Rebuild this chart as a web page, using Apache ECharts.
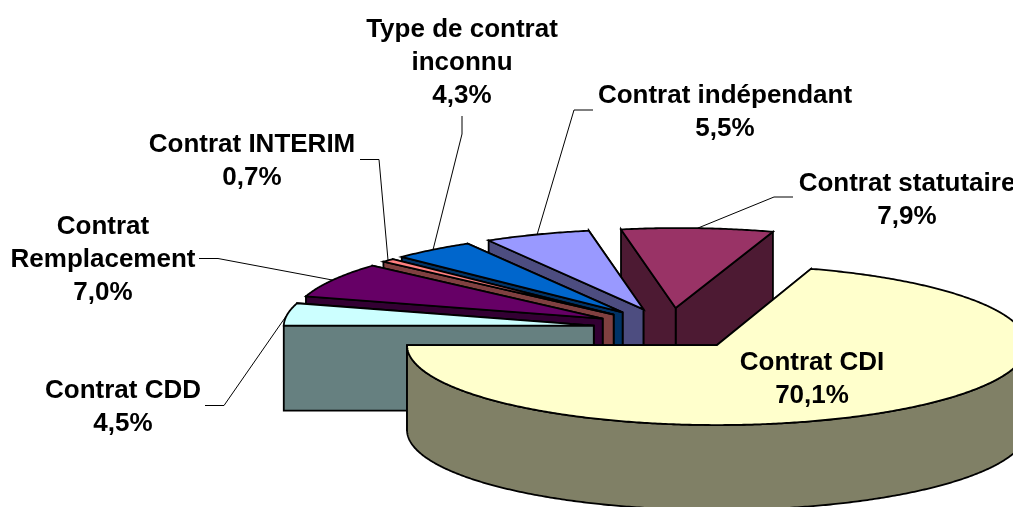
<!DOCTYPE html>
<html>
<head>
<meta charset="utf-8">
<style>html,body{margin:0;padding:0;background:#fff;overflow:hidden}#chart{width:1013px;height:507px}</style>
<script src="https://cdn.jsdelivr.net/npm/echarts@6/dist/echarts.min.js"></script>
</head>
<body>
<div id="chart"></div>
<script>
// Data
var categories = ['Contrat CDI', 'Contrat CDD', 'Contrat\nRemplacement', 'Contrat INTERIM', 'Type de contrat\ninconnu', 'Contrat indépendant', 'Contrat statutaire'];
var values = [70.1, 4.5, 7.0, 0.7, 4.3, 5.5, 7.9];

// Styles
var topColors = ['#FFFFCC', '#CCFFFF', '#660066', '#FF8080', '#0066CC', '#9999FF', '#993366'];
var sideColors = ['#808066', '#668080', '#330033', '#804040', '#003366', '#4D4D80', '#4D1A33'];

// Layout of the projected pie
var pie = { cx: 671, cy: 328.5, rx: 310, ry: 80, explodeX: 78, explodeY: 20.5, depth: 85, startAngle: 17.64, rearSkew: 3.5 };
var labelCentres = [[812, 379.5], [123, 407.5], [103, 260], [252, 161.5], [462, 63], [725, 112.5], [907, 200]];
var leaderElbows = [null, [[205, 405.5], [224, 405.5]], [[199, 258.5], [218, 258.5]], [[360, 159.5], [379, 159.5]], [[462, 116], [462, 134]], [[593, 110], [574, 110]], [[793, 197], [774, 197]]];

var total = values.reduce(function (a, b) { return a + b; }, 0);
var slices = [];
(function () {
  var a = pie.startAngle;
  values.forEach(function (v) {
    var sweep = v / total * 360;
    slices.push({ from: a, to: a + sweep, mid: a + sweep / 2 });
    a += sweep;
  });
})();

function rad(d) { return d * Math.PI / 180; }
function apexOf(s) {
  return [pie.cx + Math.sin(rad(s.mid)) * pie.explodeX, pie.cy - Math.cos(rad(s.mid)) * pie.explodeY];
}
function rimPoint(apex, deg) {
  // slices drawn at the rear of the pie lean slightly towards the viewer's right (perspective)
  var skew = deg > 270 ? Math.cos(rad(deg)) * pie.rearSkew : 0;
  return [apex[0] + Math.sin(rad(deg)) * pie.rx + skew, apex[1] - Math.cos(rad(deg)) * pie.ry];
}
function down(p) { return [p[0], p[1] + pie.depth]; }
function arc(apex, from, to) {
  var pts = [], n = Math.max(2, Math.ceil((to - from) * 2));
  for (var i = 0; i <= n; i++) pts.push(rimPoint(apex, from + (to - from) * i / n));
  return pts;
}
function poly(points, fill) {
  return { type: 'polygon', shape: { points: points }, style: { fill: fill, stroke: '#000', lineWidth: 1.8, lineJoin: 'miter' } };
}

function renderSlice(params, api) {
  var i = api.value(0), s = slices[i], apex = apexOf(s), side = sideColors[i], kids = [];
  var p0 = rimPoint(apex, s.from), p1 = rimPoint(apex, s.to);
  kids.push(poly([apex, p1, down(p1), down(apex)], side));
  kids.push(poly([apex, p0, down(p0), down(apex)], side));
  // outer wall: only the part of the rim that faces the viewer (90..270 degrees)
  var f = Math.max(s.from, 90), t = Math.min(s.to, 270);
  if (t > f) {
    var rim = arc(apex, f, t);
    kids.push(poly(rim.concat(rim.slice().reverse().map(down)), side));
  }
  kids.push(poly([apex].concat(arc(apex, s.from, s.to)), topColors[i]));
  return { type: 'group', children: kids };
}

function renderLabel(params, api) {
  var i = api.value(0), s = slices[i], kids = [], c = labelCentres[i], elbow = leaderElbows[i];
  if (elbow) {
    kids.push({
      type: 'polyline',
      shape: { points: elbow.concat([rimPoint(apexOf(s), s.mid)]) },
      style: { fill: null, stroke: '#000', lineWidth: 1 }
    });
  }
  kids.push({
    type: 'text',
    style: {
      x: c[0], y: c[1],
      text: categories[i] + '\n' + values[i].toFixed(1).replace('.', ',') + '%',
      fill: '#000',
      fontFamily: '"Liberation Sans", Arial, sans-serif',
      fontWeight: 'bold',
      fontSize: 26,
      lineHeight: 33,
      align: 'center',
      verticalAlign: 'middle'
    }
  });
  return { type: 'group', children: kids };
}

var paintOrder = values.map(function (v, i) { return [i, v]; }).reverse();
var chart = echarts.init(document.getElementById('chart'), null, { renderer: 'canvas' });
chart.setOption({
  animation: false,
  backgroundColor: '#fff',
  series: [
    { type: 'custom', coordinateSystem: 'none', renderItem: renderSlice, data: paintOrder, silent: true, z: 1 },
    { type: 'custom', coordinateSystem: 'none', renderItem: renderLabel, data: paintOrder, silent: true, z: 2 }
  ]
});
</script>
</body>
</html>
